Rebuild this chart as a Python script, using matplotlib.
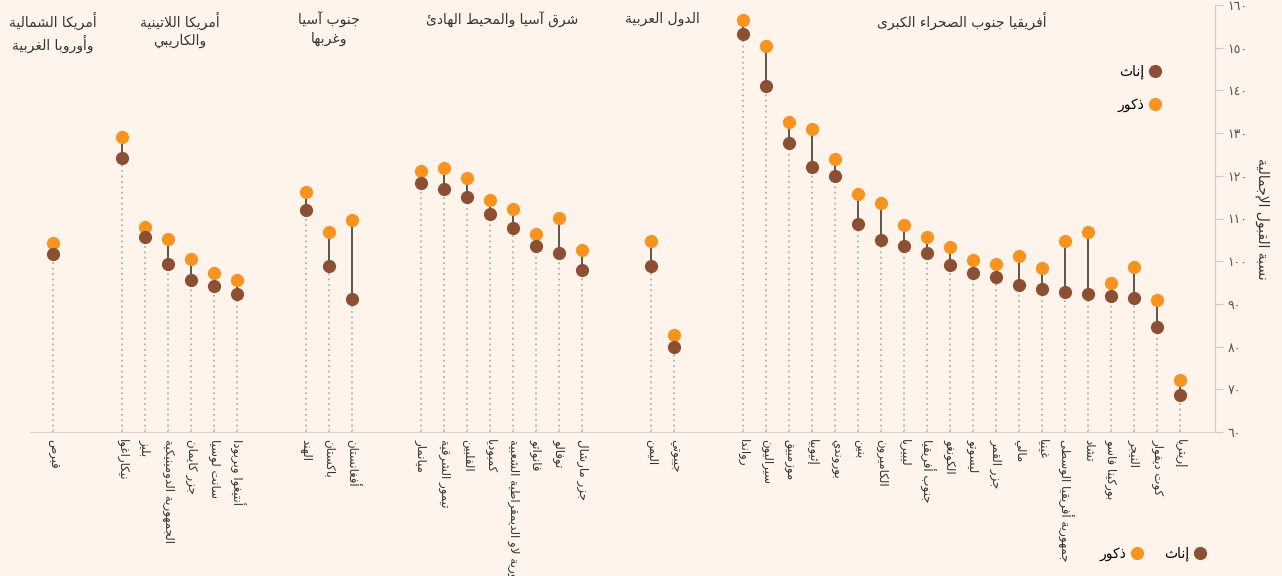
import matplotlib
matplotlib.use("Agg")
import matplotlib.pyplot as plt
from matplotlib.lines import Line2D
from matplotlib.transforms import blended_transform_factory

plt.rcParams['font.family'] = ['DejaVu Sans', 'Noto Sans']

# region titles (two lines where the original wraps)
groups = [
    "أمريكا الشمالية\nوأوروبا الغربية",
    "أمريكا اللاتينية\nوالكاريبي",
    "جنوب آسيا\nوغربها",
    "شرق آسيا والمحيط الهادئ",
    "الدول العربية",
    "أفريقيا جنوب الصحراء الكبرى",
]
group_sizes = [1, 6, 3, 8, 2, 20]

countries = [
    "قبرص",
    "نيكاراغوا", "بليز", "الجمهورية الدومينيكية", "جزر كايمان", "سانت لوسيا", "أنتيغوا وبربودا",
    "الهند", "باكستان", "أفغانستان",
    "ميانمار", "تيمور الشرقية", "الفلبين", "كمبوديا", "جمهورية لاو الديمقراطية الشعبية",
    "فانواتو", "توفالو", "جزر مارشال",
    "اليمن", "جيبوتي",
    "رواندا", "سيراليون", "موزمبيق", "إثيوبيا", "بوروندي", "بنين", "الكاميرون", "ليبيريا",
    "جنوب أفريقيا", "الكونغو", "ليسوتو", "جزر القمر", "مالي", "غينيا", "جمهورية أفريقيا الوسطى",
    "تشاد", "بوركينا فاسو", "النيجر", "كوت ديفوار", "إريتريا",
]

female = [
    101.7,
    124.2, 105.7, 99.3, 95.6, 94.2, 92.3,
    112.0, 98.9, 91.1,
    118.3, 116.9, 115.0, 111.1, 107.8, 103.6, 101.9, 97.9,
    98.9, 79.9,
    153.2, 141.0, 127.7, 122.1, 120.0, 108.7, 105.0, 103.6, 101.9, 99.1,
    97.2, 96.3, 94.4, 93.5, 92.8, 92.3, 91.9, 91.4, 84.6, 68.7,
]
male = [
    104.3,
    129.1, 108.0, 105.2, 100.5, 97.2, 95.6,
    116.2, 106.8, 109.6,
    121.1, 121.8, 119.5, 114.3, 112.2, 106.4, 110.1, 102.6,
    104.7, 82.7,
    156.5, 150.4, 132.6, 131.0, 123.9, 115.7, 113.6, 108.5, 105.7, 103.3,
    100.3, 99.3, 101.2, 98.4, 104.7, 106.8, 94.9, 98.6, 90.9, 72.2,
]

y_ticks = [60, 70, 80, 90, 100, 110, 120, 130, 140, 150, 160]

label_female = "إناث"
label_male = "ذكور"
y_title = "نسبة القبول الإجمالية"

C_FEMALE = "#8b5034"
C_MALE = "#f7931e"
BG = "#fff4eb"


# --- minimal arabic shaping (matplotlib 3.10 has no complex text layout) ---
_dual = "ئبتثجحخسشصضطظعغفقكلمنهي"
_dual_base = [0xFE89, 0xFE8F, 0xFE95, 0xFE99, 0xFE9D, 0xFEA1, 0xFEA5, 0xFEB1, 0xFEB5,
              0xFEB9, 0xFEBD, 0xFEC1, 0xFEC5, 0xFEC9, 0xFECD, 0xFED1, 0xFED5, 0xFED9,
              0xFEDD, 0xFEE1, 0xFEE5, 0xFEE9, 0xFEF1]
_right = "آأؤإاةدذرزوى"
_right_base = [0xFE81, 0xFE83, 0xFE85, 0xFE87, 0xFE8D, 0xFE93, 0xFEA9, 0xFEAB, 0xFEAD,
               0xFEAF, 0xFEED, 0xFEEF]
FORMS = {c: b for c, b in zip(_dual, _dual_base)}
FORMS.update({c: b for c, b in zip(_right, _right_base)})
FORMS["ء"] = 0xFE80
LAM_ALEF = {"آ": 0xFEF5, "أ": 0xFEF7, "إ": 0xFEF9, "ا": 0xFEFB}


def shape_line(text):
    out = []
    i, n = 0, len(text)
    while i < n:
        c = text[i]
        if c not in FORMS:
            out.append(c)
            i += 1
            continue
        joins_prev = i > 0 and text[i - 1] in _dual
        if c == "ل" and i + 1 < n and text[i + 1] in LAM_ALEF:
            out.append(chr(LAM_ALEF[text[i + 1]] + (1 if joins_prev else 0)))
            i += 2
            continue
        nxt = text[i + 1] if i + 1 < n else ""
        joins_next = c in _dual and nxt in FORMS and nxt != "ء"
        base = FORMS[c]
        if joins_prev and joins_next:
            out.append(chr(base + 3))
        elif joins_prev:
            out.append(chr(base + 1))
        elif joins_next:
            out.append(chr(base + 2))
        else:
            out.append(chr(base))
        i += 1
    return "".join(reversed(out))


def ar(text):
    return "\n".join(shape_line(line) for line in text.split("\n"))


def ar_digits(v):
    return "".join(chr(0x660 + int(d)) for d in str(v))


# x positions: one slot per country, two empty slots between regions
positions = []
centers = []
x = 1
for size in group_sizes:
    start = x
    for _ in range(size):
        positions.append(x)
        x += 1
    centers.append((start + x - 1) / 2)
    x += 2

fig = plt.figure(figsize=(12.82, 5.76), dpi=100, facecolor=BG)
ax = fig.add_axes([30 / 1282, 1 - 432 / 576, (1215 - 30) / 1282, (432 - 5) / 576])
ax.set_facecolor(BG)
ax.set_xlim(0, 51.5)
ax.set_ylim(60, 160)

for px, f, m in zip(positions, female, male):
    low = min(f, m)
    ax.plot([px, px], [60, low], linestyle=(0, (1, 2)), color="#b5b0ab", lw=1.3, zorder=1)
    ax.plot([px, px], [f, m], color="#5a5550", lw=1.4, zorder=2)

ax.plot(positions, male, "o", color=C_MALE, ms=9.5, mec="none", zorder=3)
ax.plot(positions, female, "o", color=C_FEMALE, ms=9.5, mec="none", zorder=4)

# region titles above each group
tr = blended_transform_factory(ax.transData, ax.transAxes)
for c, g in zip(centers, groups):
    ax.text(c, 0.983, ar(g), transform=tr, ha="center", va="top", fontsize=10,
            color="#333333", linespacing=1.3, multialignment="center")

ax.set_xticks(positions)
ax.set_xticklabels([ar(c) for c in countries], rotation=270, ha="center", va="top",
                   fontsize=8.5, color="#333333")
ax.tick_params(axis="x", direction="in", length=3, color="#cfcac5", pad=5)

ax.yaxis.tick_right()
ax.yaxis.set_label_position("right")
ax.set_yticks(y_ticks)
ax.set_yticklabels([ar_digits(v) for v in y_ticks], fontsize=9, color="#555555")
ax.tick_params(axis="y", length=6, color="#cfcac5", pad=3)
ax.set_ylabel(ar(y_title), rotation=270, fontsize=10, color="#333333", labelpad=16)

for side in ["top", "left"]:
    ax.spines[side].set_visible(False)
ax.spines["right"].set_color("#cfcac5")
ax.spines["bottom"].set_color("#d8d3ce")

h_f = Line2D([], [], marker="o", ls="none", color=C_FEMALE, ms=9.5, mec="none")
h_m = Line2D([], [], marker="o", ls="none", color=C_MALE, ms=9.5, mec="none")

leg1 = fig.legend([h_f, h_m], [ar(label_female), ar(label_male)], markerfirst=False,
                  loc="upper right", bbox_to_anchor=(1169 / 1282, 1 - 58 / 576),
                  frameon=False, fontsize=10, labelspacing=1.3, handletextpad=0.3,
                  borderpad=0, handlelength=1)
leg2 = fig.legend([h_m, h_f], [ar(label_male), ar(label_female)], markerfirst=False,
                  ncol=2, loc="center right", bbox_to_anchor=(1214 / 1282, 1 - 554 / 576),
                  frameon=False, fontsize=10, handletextpad=0.3, columnspacing=1.4,
                  borderpad=0, handlelength=1)

fig.savefig("out.png", dpi=100, facecolor=BG)
